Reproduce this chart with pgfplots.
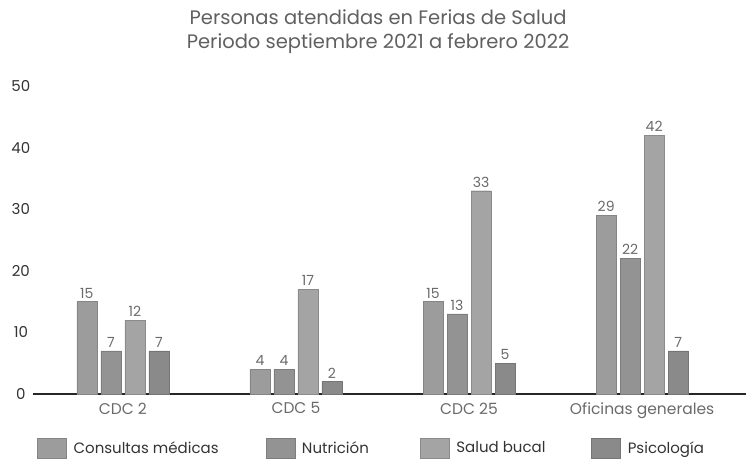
\documentclass[border=0pt]{standalone}
\usepackage{pgfplots}
\pgfplotsset{compat=1.18}
\usepackage{fontspec}
\setmainfont{Poppins}

\definecolor{cmed}{HTML}{9C9C9C}
\definecolor{cnut}{HTML}{939393}
\definecolor{csal}{HTML}{A4A4A4}
\definecolor{cpsi}{HTML}{8A8A8A}
\definecolor{titlegray}{HTML}{606060}
\definecolor{labelgray}{HTML}{6A6A6A}
\definecolor{darktext}{HTML}{333333}

\begin{document}
\begin{tikzpicture}[x=1pt,y=1pt]
\useasboundingbox (0,0) rectangle (746,463);
\begin{axis}[
  at={(33pt,69pt)}, anchor=south west,
  scale only axis, width=713pt, height=308pt,
  ymin=0, ymax=50, xmin=-0.519, xmax=3.600,
  ybar=4pt, bar width=20pt,
  /pgf/number format/assume math mode=true,
  xtick={0,1,2,3},
  xticklabels={CDC 2, CDC 5, CDC 25, Oficinas generales},
  ytick={0,10,...,50},
  axis x line=bottom, axis y line=left,
  y axis line style={draw=none},
  x axis line style={-, line width=1.6pt, color=black!85},
  xtick style={draw=none}, ytick style={draw=none},
  yticklabel style={anchor=center, xshift=-10pt, font=\fontsize{15}{18}\selectfont, text=darktext},
  xticklabel style={font=\fontsize{15.5}{17}\selectfont, text=labelgray, yshift=-3pt},
  title={Personas atendidas en Ferias de Salud\\Periodo septiembre 2021 a febrero 2022},
  title style={at={(axis description cs:0.484,1.1558)}, anchor=center, align=center,
    font=\fontsize{19.5}{24}\selectfont, text=titlegray},
  nodes near coords,
  every node near coord/.append style={font=\fontsize{14}{16}\selectfont, text=labelgray},
  legend columns=4,
  legend image code/.code={\fill[#1] (0pt,-10pt) rectangle (29pt,10pt);},
  legend style={at={(axis description cs:0.0056,-0.1753)}, anchor=west, draw=none, fill=none,
    inner sep=0pt, font=\fontsize{15}{17}\selectfont, text=darktext,
    nodes={inner sep=0pt},
    /tikz/every odd column/.append style={column sep=7pt}},
]
\addplot[fill=cmed, draw=cmed!85!black, line width=0.4pt] coordinates {(0,15) (1,4) (2,15) (3,29)};
\addplot[fill=cnut, draw=cnut!85!black, line width=0.4pt] coordinates {(0,7) (1,4) (2,13) (3,22)};
\addplot[fill=csal, draw=csal!85!black, line width=0.4pt] coordinates {(0,12) (1,17) (2,33) (3,42)};
\addplot[fill=cpsi, draw=cpsi!85!black, line width=0.4pt] coordinates {(0,7) (1,2) (2,5) (3,7)};
\legend{\makebox[192pt][l]{Consultas médicas}, \makebox[118pt][l]{Nutrición}, \makebox[135pt][l]{Salud bucal}, Psicología}
\end{axis}
\end{tikzpicture}
\end{document}
